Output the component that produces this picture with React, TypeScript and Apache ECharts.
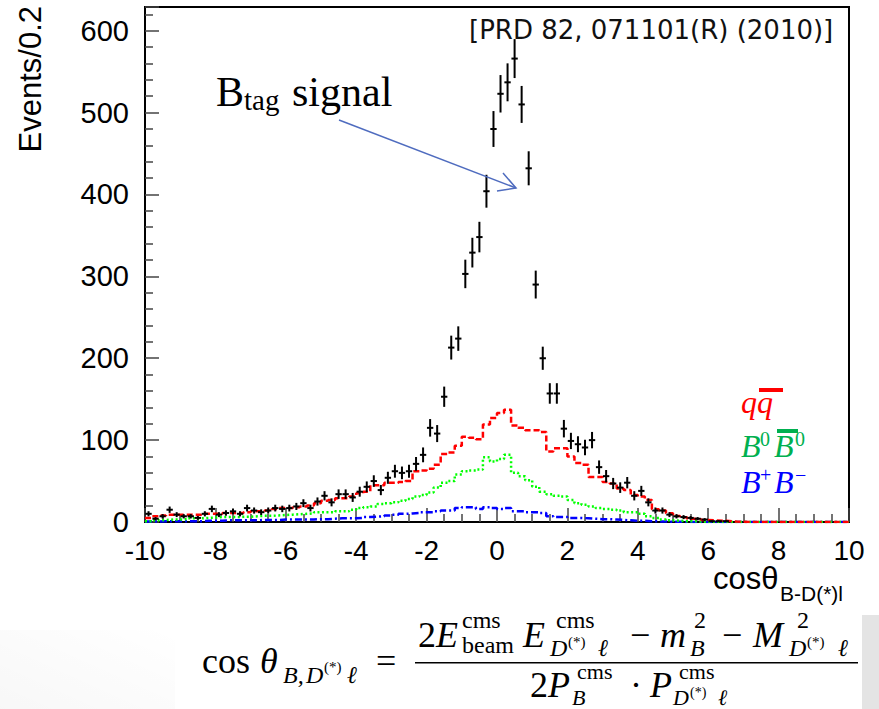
import React, { useEffect, useRef } from "react";
import * as echarts from "echarts";

// ---- data ----
const binCenters = [
  -9.9, -9.7, -9.5, -9.3, -9.1, -8.9, -8.7, -8.5, -8.3, -8.1,
  -7.9, -7.7, -7.5, -7.3, -7.1, -6.9, -6.7, -6.5, -6.3, -6.1,
  -5.9, -5.7, -5.5, -5.3, -5.1, -4.9, -4.7, -4.5, -4.3, -4.1,
  -3.9, -3.7, -3.5, -3.3, -3.1, -2.9, -2.7, -2.5, -2.3, -2.1,
  -1.9, -1.7, -1.5, -1.3, -1.1, -0.9, -0.7, -0.5, -0.3, -0.1,
  0.1, 0.3, 0.5, 0.7, 0.9, 1.1, 1.3, 1.5, 1.7, 1.9,
  2.1, 2.3, 2.5, 2.7, 2.9, 3.1, 3.3, 3.5, 3.7, 3.9,
  4.1, 4.3, 4.5, 4.7, 4.9, 5.1, 5.3, 5.5, 5.7, 5.9,
  6.1, 6.3, 6.5, 6.7, 6.9, 7.1, 7.3, 7.5, 7.7, 7.9,
  8.1, 8.3, 8.5, 8.7, 8.9, 9.1, 9.3, 9.5, 9.7, 9.9,
];
const binWidth = 0.2;

const dataEvents = [
  10, 4, 7, 15, 9, 7, 7, 5, 10, 16,
  9, 11, 13, 10, 17, 14, 12, 14, 17, 16,
  17, 19, 23, 17, 25, 32, 24, 34, 34, 30,
  37, 43, 50, 39, 54, 62, 60, 62, 71, 82,
  115, 108, 153, 213, 224, 303, 329, 348, 404, 480,
  523, 537, 566, 510, 432, 290, 200, 157, 157, 114,
  99, 95, 91, 100, 67, 56, 47, 42, 48, 32,
  38, 24, 14, 14, 9, 7, 6, 5, 4, 3,
  1, 1, 1, 0, 0, 0, 0, 0, 0, 0,
  0, 0, 0, 0, 0, 0, 0, 0, 0, 0,
];

const qqbarHist = [
  5, 7, 8, 9, 9, 9, 9, 9, 10, 10,
  10, 11, 11, 11, 12, 13, 13, 14, 16, 17,
  17, 18, 19, 20, 23, 26, 27, 29, 29, 31,
  35, 37, 45, 45, 48, 48, 49, 50, 62, 63,
  65, 70, 83, 85, 93, 104, 103, 101, 119, 127,
  133, 137, 118, 115, 112, 112, 110, 86, 90, 90,
  80, 72, 70, 55, 55, 49, 47, 41, 39, 33,
  31, 27, 15.5, 14, 10.6, 7.3, 5.7, 4, 3.3, 2.4,
  2, 1.6, 1.2, 0.5, 0.3, 0, 0, 0, 0, 0,
  0, 0, 0, 0, 0, 0, 0, 0, 0, 0,
];

const b0b0barHist = [
  1, 2, 2.5, 3, 3, 3.5, 4.5, 4.5, 5, 5.5,
  6, 6, 6, 6.5, 6.5, 7, 7.5, 7.5, 8, 8.5,
  9, 9.5, 10, 10.5, 12, 12, 12, 13, 13, 15,
  17, 18, 19, 22, 23, 24, 26, 28, 31, 33,
  36, 42, 48, 50, 58, 62, 63, 64, 79, 74,
  77, 82, 60, 56, 51, 43, 37, 34, 32, 31,
  27, 23, 21, 19, 17, 16, 15, 14, 12, 12,
  10, 7, 5, 3, 2, 1.5, 1, 1, 0.5, 0.3,
  0, 0, 0, 0, 0, 0, 0, 0, 0, 0,
  0, 0, 0, 0, 0, 0, 0, 0, 0, 0,
];

const bpbmHist = [
  0.5, 0.5, 1, 1, 1, 1, 1, 1, 1.5, 1.5,
  1.5, 2, 2, 2, 2, 2, 2.5, 2.5, 2.5, 3,
  3, 3, 3, 3, 3.5, 3.5, 4, 4.5, 4.5, 4.5,
  5, 6, 6.5, 7, 8, 9, 10, 10.5, 11, 12,
  12, 13, 14, 14, 17, 18, 18, 16, 18, 17,
  16, 17, 13, 13, 12, 12, 11, 7, 6, 6,
  5, 5, 4.5, 4, 3.5, 3.5, 3, 2.5, 2, 1.5,
  1.5, 1, 0.8, 0.5, 0.4, 0.3, 0, 0, 0, 0,
  0, 0, 0, 0, 0, 0, 0, 0, 0, 0,
  0, 0, 0, 0, 0, 0, 0, 0, 0, 0,
];

const X_MIN = -10;
const X_MAX = 10;
const X_STEP = 2;
const Y_MIN = 0;
const Y_MAX = 629;
const Y_STEP = 100;

// ---- helpers ----
const serif = '"Liberation Serif", "DejaVu Serif", serif';
const sans = '"Liberation Sans", Arial, sans-serif';

function stepData(vals: number[]) {
  const d: number[][] = binCenters.map((c, i) => [c - binWidth / 2, vals[i]]);
  const n = binCenters.length;
  d.push([binCenters[n - 1] + binWidth / 2, vals[n - 1]]);
  return d;
}

// text placed by baseline
function bt(
  x: number,
  baseline: number,
  text: string,
  size: number,
  opts: { italic?: boolean; fill?: string; family?: string; align?: string } = {}
) {
  return {
    type: "text",
    x,
    y: baseline - 0.34 * size,
    z: 100,
    style: {
      text,
      fill: opts.fill || "#000",
      fontSize: size,
      fontFamily: opts.family || serif,
      fontStyle: opts.italic ? "italic" : "normal",
      align: opts.align || "left",
      verticalAlign: "middle",
    },
  };
}

export default function App() {
  const ref = useRef<HTMLDivElement>(null);

  useEffect(() => {
    if (!ref.current) return;
    const chart = echarts.init(ref.current, null, { renderer: "svg" });

    const pointData = binCenters.map((c, i) => [c, dataEvents[i]]);

    const M = 36; // main math size
    const S = 24; // script size
    const SS = 15; // second-level script
    const mathPieces: any[] = [
      // left-hand side
      [202, 673, "cos", M, false],
      [260, 673, "θ", M, true],
      [283, 683, "B,", S, true],
      [306, 683, "D", S, true],
      [324, 672, "(*)", SS, false],
      [347, 683, "ℓ", S, true],
      [376, 673, "=", M, false],
      // numerator
      [418, 647, "2", M, false],
      [436, 647, "E", M, true],
      [462, 628, "cms", S, false],
      [462, 653, "beam", S, false],
      [523, 647, "E", M, true],
      [556, 628, "cms", S, false],
      [550, 656, "D", S, true],
      [568, 647, "(*)", SS, false],
      [598, 656, "ℓ", S, true],
      [630, 647, "−", M, false],
      [660, 647, "m", M, true],
      [694, 628, "2", S, false],
      [690, 656, "B", S, true],
      [722, 647, "−", M, false],
      [753, 647, "M", M, true],
      [797, 628, "2", S, false],
      [789, 656, "D", S, true],
      [807, 647, "(*)", SS, false],
      [838, 656, "ℓ", S, true],
      // denominator
      [530, 697, "2", M, false],
      [548, 697, "P", M, true],
      [577, 679, "cms", 22, false],
      [572, 705, "B", 22, true],
      [630, 697, "·", M, false],
      [650, 697, "P", M, true],
      [679, 679, "cms", 22, false],
      [673, 705, "D", 22, true],
      [690, 697, "(*)", 14, false],
      [718, 705, "ℓ", 22, true],
    ];

    const arrowColor = "#4f6cbf";
    const green = "#00b050";

    const graphic: any[] = [
      // light panels at the bottom
      {
        type: "rect",
        z: 0,
        shape: { x: 862, y: 615, width: 17, height: 94 },
        style: { fill: "#e4e4e4" },
      },
      {
        type: "rect",
        z: 0,
        shape: { x: 0, y: 630, width: 175, height: 79 },
        style: {
          fill: new echarts.graphic.LinearGradient(1, 0, 0, 1, [
            { offset: 0, color: "rgba(0,0,0,0)" },
            { offset: 1, color: "rgba(0,0,0,0.03)" },
          ]),
        },
      },
      // y axis title
      {
        type: "text",
        x: 30,
        y: 6,
        rotation: Math.PI / 2,
        z: 100,
        style: {
          text: "Events/0.2",
          fill: "#000",
          fontSize: 31,
          fontFamily: sans,
          align: "right",
          verticalAlign: "middle",
        },
      },
      // x axis title
      bt(713, 589, "cosθ", 31, { family: sans }),
      bt(780, 601, "B-D(*)l", 21, { family: sans }),
      // reference tag
      bt(469, 39, "[PRD 82, 071101(R) (2010)]", 26, {
        family: '"DejaVu Sans", sans-serif',
        fill: "#111",
      }),
      // B_tag signal annotation
      bt(216, 106, "B", 42),
      bt(244, 110, "tag", 29),
      bt(292, 106, "signal", 42),
      {
        type: "line",
        z: 100,
        shape: { x1: 339, y1: 120, x2: 516, y2: 188 },
        style: { stroke: arrowColor, lineWidth: 1.5 },
      },
      {
        type: "polyline",
        z: 100,
        shape: { points: [[503, 173], [516, 188], [497, 191]] },
        style: { stroke: arrowColor, lineWidth: 1.5, fill: "none" },
      },
      // legend
      bt(741, 413, "qq", 32, { italic: true, fill: "#ff0000" }),
      { type: "rect", z: 100, shape: { x: 759, y: 388, width: 24, height: 4 }, style: { fill: "#ff0000" } },
      bt(741, 457, "B", 32, { italic: true, fill: green }),
      bt(760, 446, "0", 20, { fill: green }),
      bt(774, 457, "B", 32, { italic: true, fill: green }),
      { type: "rect", z: 100, shape: { x: 777, y: 429, width: 21, height: 4 }, style: { fill: green } },
      bt(795, 446, "0", 20, { fill: green }),
      bt(741, 493, "B", 32, { italic: true, fill: "#0000ff" }),
      bt(760, 482, "+", 20, { fill: "#0000ff" }),
      bt(774, 493, "B", 32, { italic: true, fill: "#0000ff" }),
      bt(795, 482, "−", 20, { fill: "#0000ff" }),
      // formula
      ...mathPieces.map((p) => bt(p[0], p[1], p[2], p[3], { italic: p[4] })),
      {
        type: "rect",
        z: 100,
        shape: { x: 415, y: 662, width: 443, height: 1.6 },
        style: { fill: "#000" },
      },
    ];

    const option: any = {
      animation: false,
      backgroundColor: "#ffffff",
      grid: {
        left: 145,
        right: 30,
        top: 7,
        bottom: 187,
        show: true,
        borderColor: "#000",
        borderWidth: 2,
        backgroundColor: "transparent",
        outerBoundsMode: "none",
      },
      xAxis: {
        type: "value",
        min: X_MIN,
        max: X_MAX,
        interval: X_STEP,
        axisLine: { show: true, onZero: false, lineStyle: { color: "#000", width: 2 } },
        axisTick: { show: true, inside: true, length: 14, lineStyle: { color: "#444", width: 1.5 } },
        minorTick: { show: true, splitNumber: 4, length: 8, lineStyle: { color: "#444", width: 1.5 } },
        splitLine: { show: false },
        axisLabel: {
          color: "#000",
          fontSize: 28,
          fontFamily: sans,
          margin: 14,
        },
      },
      yAxis: {
        type: "value",
        min: Y_MIN,
        max: Y_MAX,
        interval: Y_STEP,
        axisLine: { show: true, onZero: false, lineStyle: { color: "#000", width: 2 } },
        axisTick: { show: true, inside: true, length: 14, lineStyle: { color: "#444", width: 1.5 } },
        minorTick: { show: true, splitNumber: 5, length: 8, lineStyle: { color: "#444", width: 1.5 } },
        splitLine: { show: false },
        axisLabel: {
          color: "#000",
          fontSize: 29,
          fontFamily: sans,
          margin: 16,
          showMaxLabel: false,
        },
      },
      series: [
        {
          name: "B+B-",
          type: "line",
          step: "end",
          symbol: "none",
          data: stepData(bpbmHist),
          lineStyle: { color: "#0000ff", width: 2.5, type: [7, 3, 2, 3] },
          z: 3,
        },
        {
          name: "B0B0bar",
          type: "line",
          step: "end",
          symbol: "none",
          data: stepData(b0b0barHist),
          lineStyle: { color: "#00ff00", width: 2.5, type: [2, 2.5] },
          z: 3,
        },
        {
          name: "qqbar",
          type: "line",
          step: "end",
          symbol: "none",
          data: stepData(qqbarHist),
          lineStyle: { color: "#ff0000", width: 2.5, type: [6, 3] },
          z: 3,
        },
        {
          name: "data",
          type: "custom",
          data: pointData,
          encode: { x: 0, y: 1 },
          z: 5,
          renderItem: (params: any, api: any) => {
            const xv = api.value(0);
            const yv = api.value(1);
            if (!(yv > 0)) return null;
            const err = Math.sqrt(yv);
            const p = api.coord([xv, yv]);
            const pt = api.coord([xv, yv + err]);
            const pb = api.coord([xv, Math.max(yv - err, 0)]);
            const pl = api.coord([xv - binWidth * 0.45, yv]);
            const pr = api.coord([xv + binWidth * 0.45, yv]);
            return {
              type: "group",
              children: [
                {
                  type: "line",
                  shape: { x1: p[0], y1: pt[1], x2: p[0], y2: pb[1] },
                  style: { stroke: "#000", lineWidth: 2 },
                },
                {
                  type: "line",
                  shape: { x1: pl[0], y1: p[1], x2: pr[0], y2: p[1] },
                  style: { stroke: "#000", lineWidth: 2 },
                },
              ],
            };
          },
        },
      ],
      graphic,
    };

    chart.setOption(option);
    return () => {
      chart.dispose();
    };
  }, []);

  return (
    <div
      ref={ref}
      style={{ position: "fixed", left: 0, top: 0, width: 879, height: 709, background: "#fff" }}
    />
  );
}
